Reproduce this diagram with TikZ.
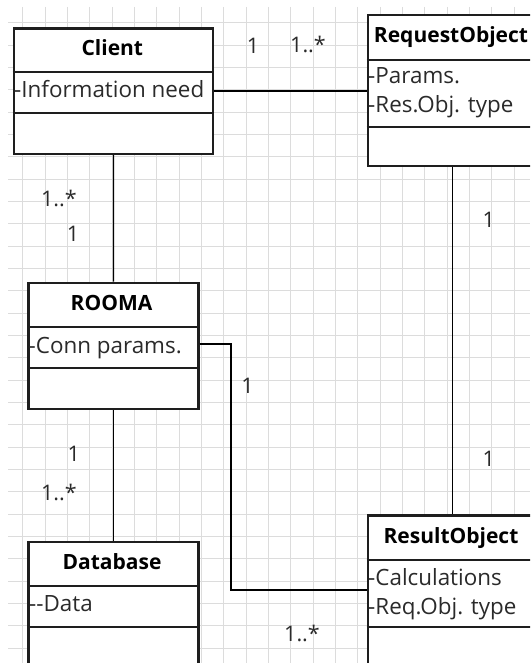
\documentclass[tikz,border=0pt]{standalone}
\usepackage{fontspec}
\setmainfont{Open Sans}
\definecolor{gridgray}{HTML}{DCDCDC}
\definecolor{boxdark}{HTML}{1E1E1E}
\definecolor{textgray}{HTML}{2A2A2A}
\tikzset{
  gridline/.style={draw=gridgray, line width=0.9pt},
  classbox/.style={rectangle, draw=boxdark, line width=2.3pt, fill=white,
                   inner sep=0pt, anchor=north west},
  divider/.style={draw=boxdark, line width=2.3pt},
  assoc/.style={draw=black, line width=1.3pt},
  classtitle/.style={font=\bfseries\fontsize{21}{25}\selectfont, anchor=base,
                     inner sep=0pt, text=black},
  attr/.style={font=\fontsize{22.4}{26}\selectfont, anchor=base west,
               inner sep=0pt, text=textgray},
  mult/.style={font=\fontsize{21.5}{25}\selectfont, anchor=base,
               inner sep=0pt, text=textgray},
  multl/.style={mult, anchor=base west},
}
\begin{document}
\begin{tikzpicture}[x=1pt, y=-1pt]
  \useasboundingbox (0,0) rectangle (530,663);
  \clip (0,0) rectangle (530,663);
  \fill[white] (0,0) rectangle (530,663);

  % background grid
  \foreach \i in {0,...,23}
    \draw[gridline] ({22.7+22.33*\i},7) -- ({22.7+22.33*\i},663);
  \foreach \j in {0,...,29}
    \draw[gridline] (8,{22.7+22.34*\j}) -- (530,{22.7+22.34*\j});

  % class boxes
  \node[classbox, minimum width=199.3pt, minimum height=125.4pt] (client) at (12.7,27.3) {};
  \node[classbox, minimum width=168.6pt, minimum height=151pt] (reqobj) at (366.7,14) {};
  \node[classbox, minimum width=170pt, minimum height=126pt] (rooma) at (27.3,281.7) {};
  \node[classbox, minimum width=170pt, minimum height=126pt] (database) at (27.3,540.7) {};
  \node[classbox, minimum width=168.6pt, minimum height=153pt] (resobj) at (366.7,514.3) {};

  % compartment dividers
  \foreach \b/\da/\db in {client/45/85.4, reqobj/46/112.7, rooma/45/86,
                          database/45.3/86, resobj/45.7/112.4} {
    \draw[divider] ([yshift=-\da pt]\b.north west) -- ([yshift=-\da pt]\b.north east);
    \draw[divider] ([yshift=-\db pt]\b.north west) -- ([yshift=-\db pt]\b.north east);
  }

  % class names
  \node[classtitle] (clientT) at (112.35,56) {Client};
  \node[classtitle] (reqobjT) at (451,42.7) {RequestObject};
  \node[classtitle] (roomaT) at (111.5,310) {ROOMA};
  \node[classtitle] (databaseT) at (112,569.3) {Database};
  \node[classtitle] (resobjT) at (451,543.3) {ResultObject};

  % attributes
  \node[attr] (clientA) at (14,97.3) {-Information need};
  \node[attr] (reqobjA1) at (368,84) {-Params.};
  \node[attr] (reqobjA2) at (368,112.7) {-Res.Obj. type};
  \node[attr] (roomaA) at (28.5,353.3) {-Conn params.};
  \node[attr] (databaseA) at (29,611.7) {-{}-Data};
  \node[attr] (resobjA1) at (368,585) {-Calculations};
  \node[attr] (resobjA2) at (368,614) {-Req.Obj. type};

  % associations
  \draw[assoc] (client.east) -- (client.east -| reqobj.west);
  \draw[assoc] (client.south) -- (rooma.north);
  \draw[assoc] (rooma.south) -- (database.north);
  \draw[assoc] (reqobj.south) -- (resobj.north);
  \coordinate (bendA) at (231,344);
  \coordinate (bendB) at (231,590);
  \draw[assoc] (rooma.east |- bendA) -- (bendA) -- (bendB) -- (bendB -| resobj.west);

  % multiplicities
  \node[mult] (m1) at (253,53.3) {1};
  \node[multl] (m2) at (290,52.7) {1..*};
  \node[multl] (m3) at (41,206.7) {1..*};
  \node[mult] (m4) at (73,241) {1};
  \node[mult] (m5) at (247.5,393.3) {1};
  \node[mult] (m6) at (73.8,461) {1};
  \node[multl] (m7) at (41,500) {1..*};
  \node[mult] (m8) at (488.8,227.3) {1};
  \node[mult] (m9) at (488.8,466.7) {1};
  \node[multl] (m10) at (284,641.7) {1..*};
\end{tikzpicture}
\end{document}
